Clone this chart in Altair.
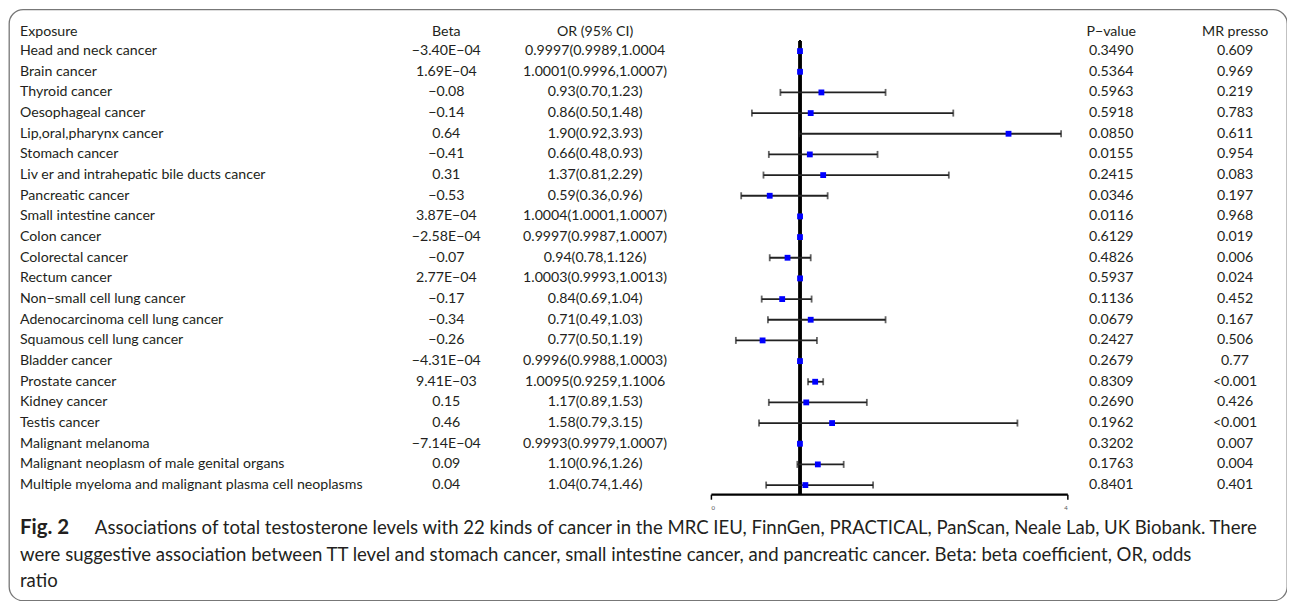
import altair as alt
import pandas as pd

# ---------------- data ----------------
exposures = [
    "Head and neck cancer", "Brain cancer", "Thyroid cancer", "Oesophageal cancer",
    "Lip,oral,pharynx cancer", "Stomach cancer", "Liv er and intrahepatic bile ducts cancer",
    "Pancreatic cancer", "Small intestine cancer", "Colon cancer", "Colorectal cancer",
    "Rectum cancer", "Non\u2212small cell lung cancer", "Adenocarcinoma cell lung cancer",
    "Squamous cell lung cancer", "Bladder cancer", "Prostate cancer", "Kidney cancer",
    "Testis cancer", "Malignant melanoma", "Malignant neoplasm of male genital organs",
    "Multiple myeloma and malignant plasma cell neoplasms",
]
beta_text = [
    "\u22123.40E\u221204", "1.69E\u221204", "\u22120.08", "\u22120.14", "0.64", "\u22120.41",
    "0.31", "\u22120.53", "3.87E\u221204", "\u22122.58E\u221204", "\u22120.07", "2.77E\u221204",
    "\u22120.17", "\u22120.34", "\u22120.26", "\u22124.31E\u221204", "9.41E\u221203", "0.15",
    "0.46", "\u22127.14E\u221204", "0.09", "0.04",
]
or_text = [
    "0.9997(0.9989,1.0004", "1.0001(0.9996,1.0007)", "0.93(0.70,1.23)", "0.86(0.50,1.48)",
    "1.90(0.92,3.93)", "0.66(0.48,0.93)", "1.37(0.81,2.29)", "0.59(0.36,0.96)",
    "1.0004(1.0001,1.0007)", "0.9997(0.9987,1.0007)", "0.94(0.78,1.126)", "1.0003(0.9993,1.0013)",
    "0.84(0.69,1.04)", "0.71(0.49,1.03)", "0.77(0.50,1.19)", "0.9996(0.9988,1.0003)",
    "1.0095(0.9259,1.1006", "1.17(0.89,1.53)", "1.58(0.79,3.15)", "0.9993(0.9979,1.0007)",
    "1.10(0.96,1.26)", "1.04(0.74,1.46)",
]
p_text = [
    "0.3490", "0.5364", "0.5963", "0.5918", "0.0850", "0.0155", "0.2415", "0.0346",
    "0.0116", "0.6129", "0.4826", "0.5937", "0.1136", "0.0679", "0.2427", "0.2679",
    "0.8309", "0.2690", "0.1962", "0.3202", "0.1763", "0.8401",
]
mr_text = [
    "0.609", "0.969", "0.219", "0.783", "0.611", "0.954", "0.083", "0.197", "0.968",
    "0.019", "0.006", "0.024", "0.452", "0.167", "0.506", "0.77", "<0.001", "0.426",
    "<0.001", "0.007", "0.004", "0.401",
]
# plotted estimates / CI as drawn in the figure
plot_est = [0.9997, 1.0001, 1.24, 1.12, 3.34, 1.11, 1.26, 0.66, 1.0004, 0.9997, 0.86,
            1.0003, 0.80, 1.12, 0.58, 0.9996, 1.17, 1.07, 1.36, 0.9993, 1.20, 1.06]
plot_lo = [0.9989, 0.9996, 0.78, 0.46, 0.99, 0.65, 0.59, 0.34, 1.0001, 0.9987, 0.66,
           0.9993, 0.57, 0.64, 0.28, 0.9988, 1.09, 0.65, 0.54, 0.9979, 0.97, 0.62]
plot_hi = [1.0004, 1.0007, 1.96, 2.72, 3.93, 1.87, 2.67, 1.31, 1.0007, 1.0007, 1.12,
           1.0013, 1.13, 1.96, 1.19, 1.0003, 1.26, 1.75, 3.44, 1.0007, 1.49, 1.82]

headers = ["Exposure", "Beta", "OR (95% CI)", "P\u2212value", "MR presso"]
axis_ticks = [0, 4]

caption_bold = "Fig. 2"
caption_lines = [
    "Associations of total testosterone levels with 22 kinds of cancer in the MRC IEU, FinnGen, PRACTICAL, PanScan, Neale Lab, UK Biobank. There",
    "were suggestive association between TT level and stomach cancer, small intestine cancer, and pancreatic cancer. Beta: beta coefficient, OR, odds",
    "ratio",
]

# ---------------- tables ----------------
rows = list(range(1, len(exposures) + 1))
table = pd.DataFrame({"row": rows, "exposure": exposures, "beta": beta_text,
                      "ci": or_text, "p": p_text, "mr": mr_text})
forest = pd.DataFrame({"row": rows, "est": plot_est, "lo": plot_lo, "hi": plot_hi})
head_df = pd.DataFrame({"h": headers})

# ---------------- style ----------------
W, H = 1280, 592
FONT = "Lato"
FS = 14.2
CFS = 18.6
TC = "#231f20"
yscale = alt.Scale(domain=[-0.5, 22.5], range=[10.65, 486.7])
xscale = alt.Scale(domain=[0, 4], range=[703, 1060], nice=False, zero=False)
xaxis = alt.Axis(values=axis_ticks, orient="bottom", offset=-106.5, title=None, grid=False,
                 domainColor="black", domainWidth=2.2, tickColor="black", tickWidth=1.5,
                 tickSize=5, labelFontSize=6, labelColor="#555", labelPadding=5,
                 labelFont=FONT)
col_x = {"exposure": 11, "beta": 438, "ci": 587, "p": 1104, "mr": 1228}
col_align = {"exposure": "left", "beta": "center", "ci": "center", "p": "center", "mr": "center"}


def text_col(field):
    return alt.Chart(table).mark_text(
        align=col_align[field], baseline="middle", font=FONT, fontSize=FS, color=TC
    ).encode(
        x=alt.value(col_x[field]),
        y=alt.Y("row:Q", scale=yscale, axis=None),
        text=f"{field}:N",
    )


def header(i, field):
    return alt.Chart(head_df.iloc[[i]]).mark_text(
        align=col_align[field], baseline="middle", font=FONT, fontSize=FS, color=TC
    ).encode(x=alt.value(col_x[field]), y=alt.value(23), text="h:N")


fbase = alt.Chart(forest)
ref = alt.Chart(forest).mark_rule(color="black", strokeWidth=2.2).encode(
    x=alt.XDatum(1, type="quantitative", scale=xscale, axis=xaxis),
    y=alt.YDatum(0.5, type="quantitative", scale=yscale, axis=None),
    y2=alt.Y2Datum(22.45),
)
bars = fbase.mark_rule(color="#222", strokeWidth=1.8).encode(
    x=alt.X("lo:Q", scale=xscale, axis=xaxis),
    x2="hi:Q",
    y=alt.Y("row:Q", scale=yscale, axis=None),
)
cap_lo = fbase.mark_tick(orient="vertical", size=7, thickness=1.8, color="#222").encode(
    x=alt.X("lo:Q", scale=xscale, axis=xaxis), y=alt.Y("row:Q", scale=yscale, axis=None))
cap_hi = fbase.mark_tick(orient="vertical", size=7, thickness=1.8, color="#222").encode(
    x=alt.X("hi:Q", scale=xscale, axis=xaxis), y=alt.Y("row:Q", scale=yscale, axis=None))
pts = fbase.mark_square(color="#0000ff", size=34, opacity=1, filled=True).encode(
    x=alt.X("est:Q", scale=xscale, axis=xaxis), y=alt.Y("row:Q", scale=yscale, axis=None))

cap_df = pd.DataFrame({"t": [caption_bold] + caption_lines})
cap_layers = [
    alt.Chart(cap_df.iloc[[0]]).mark_text(align="left", baseline="middle", font=FONT,
                                          fontSize=20.5, fontWeight="bold", color=TC
                                          ).encode(x=alt.value(11), y=alt.value(519), text="t:N"),
]
for k, yy in zip(range(1, 4), [519, 546, 572]):
    cap_layers.append(
        alt.Chart(cap_df.iloc[[k]]).mark_text(align="left", baseline="middle", font=FONT,
                                              fontSize=CFS, color=TC
                                              ).encode(x=alt.value(86 if k == 1 else 11),
                                                       y=alt.value(yy), text="t:N"))

layers = [ref, bars, cap_lo, cap_hi, pts]
layers += [text_col(f) for f in ["exposure", "beta", "ci", "p", "mr"]]
layers += [header(i, f) for i, f in enumerate(["exposure", "beta", "ci", "p", "mr"])]
layers += cap_layers

chart = alt.layer(*layers).properties(
    width=W, height=H,
    autosize=alt.AutoSizeParams(type="none"),
    padding={"left": 1, "top": 1, "right": 0, "bottom": 0},
    background="white",
).configure_view(stroke="#777777", strokeWidth=1.3, cornerRadius=14)

chart.save("out.html", embed_options={"renderer": "svg", "actions": False})
